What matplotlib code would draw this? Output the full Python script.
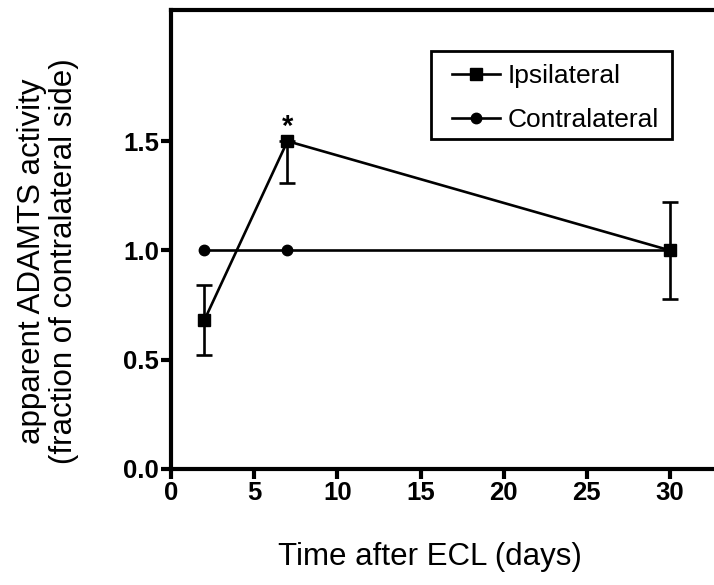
import numpy as np
import matplotlib
matplotlib.use("Agg")
import matplotlib.pyplot as plt
from matplotlib.lines import Line2D
from matplotlib.patches import Rectangle

plt.rcParams['font.family'] = ['Liberation Sans', 'DejaVu Sans']

# data
days = [2, 7, 30]
ipsi = [0.68, 1.50, 1.00]
ipsi_err_low = [0.16, 0.19, 0.22]
ipsi_err_high = [0.16, 0.0, 0.22]
contra = [1.0, 1.0, 1.0]

xticks = [0, 5, 10, 15, 20, 25, 30]
yticks = [0.0, 0.5, 1.0, 1.5]

fig = plt.figure(figsize=(7.14, 5.85), dpi=100)
# axes runs past the right edge (right spine is cut off in the original)
ax = fig.add_axes([171/714, 1-469/585, 549/714, 459/585])

ax.plot(days, contra, '-o', color='black', lw=1.9, ms=7.5, zorder=3)
ax.errorbar(days, ipsi, yerr=[ipsi_err_low, ipsi_err_high], fmt='-s', color='black',
            lw=1.9, ms=8.5, elinewidth=1.9, capsize=5.5, capthick=1.9, zorder=4)

ax.text(7, 1.53, '*', ha='center', va='baseline', fontsize=21, fontweight='bold')

ax.set_xlim(0, 33)
ax.set_ylim(0, 2.1)
ax.set_xticks(xticks)
ax.set_yticks(yticks)
ax.set_yticklabels(['%.1f' % v for v in yticks])

for s in ['top', 'left', 'bottom']:
    ax.spines[s].set_linewidth(3)
ax.spines['right'].set_visible(False)
ax.tick_params(width=3, length=7, labelsize=18.5, pad=1.5)
for lab in ax.get_xticklabels() + ax.get_yticklabels():
    lab.set_fontweight('bold')

ax.set_xlabel('Time after ECL (days)', fontsize=22.5)
ax.xaxis.set_label_coords((430-171)/549, -(557-469)/459)
ax.xaxis.label.set_va('center')
ax.set_ylabel('apparent ADAMTS activity\n(fraction of contralateral side)', fontsize=22.5,
              linespacing=1.05)
ax.yaxis.set_label_coords((48-171)/549, 0.452)
ax.yaxis.label.set_va('center')

# legend: plain line+marker handles, frame drawn as its own box
handles = [Line2D([], [], color='black', lw=1.9, marker='s', ms=8.5),
           Line2D([], [], color='black', lw=1.9, marker='o', ms=7.5)]
leg = ax.legend(handles, ['Ipsilateral', 'Contralateral'], loc='upper left',
                bbox_to_anchor=(452/714, 1-64/585), bbox_transform=fig.transFigure,
                fontsize=19, frameon=False,
                handlelength=1.8, handletextpad=0.3, labelspacing=0.77,
                borderpad=0, borderaxespad=0)
fig.patches.append(Rectangle((431/714, 1-139/585), (672-431)/714, (139-51)/585,
                             transform=fig.transFigure, fill=False,
                             edgecolor='black', lw=2))

fig.savefig('out.png', dpi=100)
